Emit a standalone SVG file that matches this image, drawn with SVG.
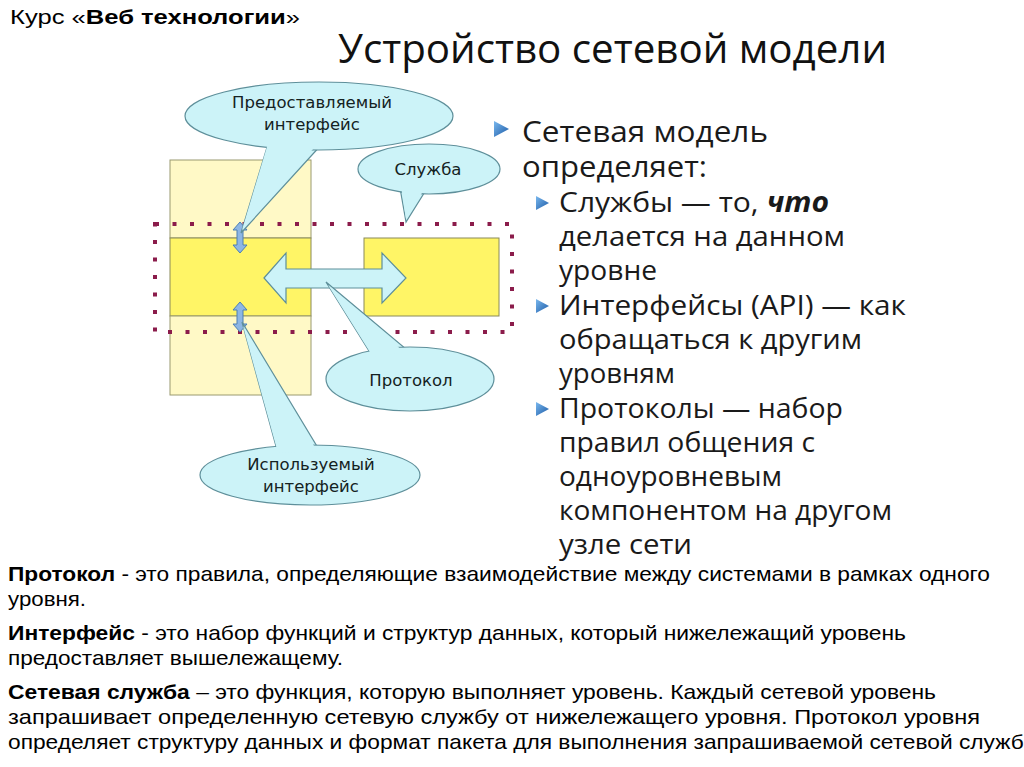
<svg xmlns="http://www.w3.org/2000/svg" width="1024" height="767" viewBox="0 0 1024 767">
<defs>
<style>
.lt{fill:#FFF9C6;stroke:#9a9a70;stroke-width:1}
.br{fill:#FFF566;stroke:#8a8a5a;stroke-width:1}
.co{fill:#CCF3F8;stroke:#5e8f9a;stroke-width:1.2}
.cof{fill:#CCF3F8;stroke:none}
.ct{font-family:"DejaVu Sans",sans-serif;font-size:16.5px;fill:#142222;text-anchor:middle}
.sm{fill:#8DB6E4;stroke:#4c7fb4;stroke-width:1}
.b1{font-family:"Open Sans","DejaVu Sans",sans-serif;font-size:30px;fill:#1a1a1a}
.bl{font-family:"Open Sans","DejaVu Sans",sans-serif;font-size:28px;fill:#1a1a1a}
.bt{font-family:"Liberation Sans",Arial,sans-serif;font-size:21px;fill:#000}
.b{font-weight:bold}
</style>
<linearGradient id="tri" x1="0" y1="0" x2="1" y2="1">
<stop offset="0" stop-color="#7ab8ee"/>
<stop offset="1" stop-color="#1b5aa6"/>
</linearGradient>
</defs>
<rect width="1024" height="767" fill="#ffffff"/>

<text x="10" y="24" font-family="Liberation Sans, Arial, sans-serif" font-size="21" fill="#000" textLength="290" lengthAdjust="spacingAndGlyphs">Курс  «<tspan class="b">Веб технологии</tspan>»</text>
<text x="338" y="63" font-family="Open Sans, DejaVu Sans, sans-serif" font-size="40" fill="#111" textLength="549" lengthAdjust="spacingAndGlyphs">Устройство сетевой модели</text>

<g id="layers">
<rect class="lt" x="170" y="160" width="141" height="78"/>
<rect class="br" x="170" y="238" width="141" height="78"/>
<rect class="lt" x="170" y="316" width="141" height="79"/>
<rect class="br" x="364" y="238" width="135" height="78"/>
</g>

<g id="level-frame">
<rect x="155" y="224" width="357" height="108" fill="none" stroke="#8B1C4B" stroke-width="4" stroke-dasharray="4 13.5"/>
</g>

<g id="connectors">
<polygon class="co" points="264,278 286,253 286,269 382,269 382,253 406,278 382,303 382,288 286,288 286,303"/>
<polygon class="sm" points="240,222 247,230 243,230 243,245 247,245 240,253 233,245 237,245 237,230 233,230"/>
<polygon class="sm" points="240,302 247,310 243,310 243,324 247,324 240,332 233,324 237,324 237,310 233,310"/>
</g>

<g id="callout-provided">
<polygon class="co" points="241,233 268,144 322,144"/>
<ellipse class="co" cx="319" cy="116" rx="134" ry="34"/>
<polygon class="cof" points="242,230 269,140 321,140"/>
<text class="ct" x="312" y="108">Предоставляемый</text>
<text class="ct" x="312" y="130">интерфейс</text>
</g>

<g id="callout-service">
<polygon class="co" points="406,222 400,188 426,190"/>
<ellipse class="co" cx="429" cy="169" rx="71" ry="25"/>
<polygon class="cof" points="406,219 401,186 425,188"/>
<text class="ct" x="428" y="175">Служба</text>
</g>

<g id="callout-protocol">
<polygon class="co" points="326,282 371,354 406,349"/>
<ellipse class="co" cx="410" cy="379" rx="84" ry="32"/>
<polygon class="cof" points="328,285 373,357 404,352"/>
<text class="ct" x="411" y="386">Протокол</text>
</g>

<g id="callout-used">
<polygon class="co" points="242,322 277,450 318,448"/>
<ellipse class="co" cx="310" cy="475" rx="110" ry="30"/>
<polygon class="cof" points="243,326 278,453 317,451"/>
<text class="ct" x="311" y="470">Используемый</text>
<text class="ct" x="311" y="492">интерфейс</text>
</g>

<g id="bullets">
<polygon fill="url(#tri)" points="494,121 509,129 494,137"/>
<polygon fill="url(#tri)" points="536,196 549,203 536,210"/>
<polygon fill="url(#tri)" points="536,299 549,306 536,313"/>
<polygon fill="url(#tri)" points="536,402 549,409 536,416"/>
<text class="b1" x="522" y="142" textLength="246" lengthAdjust="spacingAndGlyphs">Сетевая модель</text>
<text class="b1" x="522" y="177" textLength="185" lengthAdjust="spacingAndGlyphs">определяет:</text>
<text class="bl" x="559" y="212" textLength="270" lengthAdjust="spacingAndGlyphs">Службы — то, <tspan font-weight="bold" font-style="italic">что</tspan></text>
<text class="bl" x="559" y="246" textLength="286" lengthAdjust="spacingAndGlyphs">делается на данном</text>
<text class="bl" x="559" y="280" textLength="98" lengthAdjust="spacingAndGlyphs">уровне</text>
<text class="bl" x="559" y="315" textLength="347" lengthAdjust="spacingAndGlyphs">Интерфейсы (API) — как</text>
<text class="bl" x="559" y="349" textLength="303" lengthAdjust="spacingAndGlyphs">обращаться к другим</text>
<text class="bl" x="559" y="383" textLength="116" lengthAdjust="spacingAndGlyphs">уровням</text>
<text class="bl" x="559" y="418" textLength="284" lengthAdjust="spacingAndGlyphs">Протоколы — набор</text>
<text class="bl" x="559" y="452" textLength="256" lengthAdjust="spacingAndGlyphs">правил общения с</text>
<text class="bl" x="559" y="486" textLength="223" lengthAdjust="spacingAndGlyphs">одноуровневым</text>
<text class="bl" x="559" y="520" textLength="333" lengthAdjust="spacingAndGlyphs">компонентом на другом</text>
<text class="bl" x="559" y="554" textLength="133" lengthAdjust="spacingAndGlyphs">узле сети</text>
</g>

<g id="definitions">
<text class="bt" x="8" y="581" textLength="982" lengthAdjust="spacingAndGlyphs"><tspan class="b">Протокол</tspan> - это правила, определяющие взаимодействие между системами в рамках одного</text>
<text class="bt" x="8" y="606" textLength="78" lengthAdjust="spacingAndGlyphs">уровня.</text>
<text class="bt" x="8" y="640" textLength="898" lengthAdjust="spacingAndGlyphs"><tspan class="b">Интерфейс</tspan> - это набор функций и структур данных, который нижележащий уровень</text>
<text class="bt" x="8" y="665" textLength="335" lengthAdjust="spacingAndGlyphs">предоставляет вышележащему.</text>
<text class="bt" x="8" y="699" textLength="928" lengthAdjust="spacingAndGlyphs"><tspan class="b">Сетевая служба</tspan> – это функция, которую выполняет уровень. Каждый сетевой уровень</text>
<text class="bt" x="8" y="724" textLength="972" lengthAdjust="spacingAndGlyphs">запрашивает определенную сетевую службу от нижележащего уровня. Протокол уровня</text>
<text class="bt" x="8" y="749" textLength="1032" lengthAdjust="spacingAndGlyphs">определяет структуру данных и формат пакета для выполнения запрашиваемой сетевой службы</text>
</g>
</svg>
